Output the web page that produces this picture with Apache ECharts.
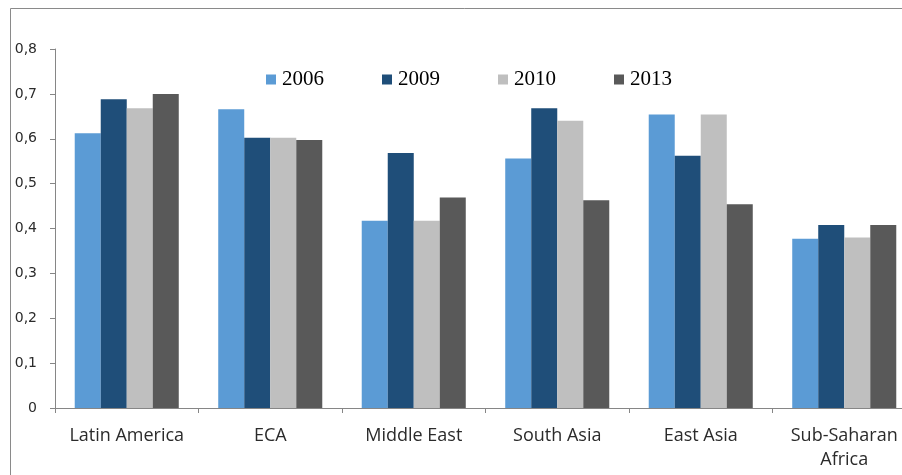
<!DOCTYPE html>
<html>
<head>
<meta charset="utf-8">
<script src="https://cdn.jsdelivr.net/npm/echarts@6/dist/echarts.min.js"></script>
<style>
html,body{margin:0;padding:0;background:#fff;overflow:hidden;width:902px;height:475px;}
#chart{width:918px;height:475px;}
</style>
</head>
<body>
<div id="chart"></div>
<script>
const categories = ['Latin America', 'ECA', 'Middle East', 'South Asia', 'East Asia', 'Sub-Saharan\nAfrica'];
const seriesNames = ['2006', '2009', '2010', '2013'];
const values2006 = [0.612, 0.666, 0.417, 0.556, 0.654, 0.377];
const values2009 = [0.688, 0.602, 0.568, 0.668, 0.562, 0.408];
const values2010 = [0.668, 0.602, 0.417, 0.640, 0.654, 0.380];
const values2013 = [0.700, 0.597, 0.469, 0.463, 0.454, 0.408];
const yTickLabels = ['0', '0,1', '0,2', '0,3', '0,4', '0,5', '0,6', '0,7', '0,8'];

const colors = ['#5B9BD5', '#1F4E79', '#BFBFBF', '#595959'];
const allValues = [values2006, values2009, values2010, values2013];

const chart = echarts.init(document.getElementById('chart'), null, {renderer: 'canvas'});
chart.setOption({
  animation: false,
  backgroundColor: '#ffffff',
  color: colors,
  graphic: [{
    type: 'rect',
    shape: {x: 10.5, y: 8.5, width: 1200, height: 1000},
    style: {fill: 'none', stroke: '#8a8a8a', lineWidth: 1},
    silent: true
  }],
  legend: {
    data: seriesNames,
    left: 266,
    top: 69,
    icon: 'rect',
    itemWidth: 10,
    itemHeight: 10,
    itemGap: 58,
    textStyle: {fontFamily: 'Liberation Serif', fontSize: 21, color: '#000', lineHeight: 21, padding: [0, 0, 0, 1]},
    padding: 0
  },
  grid: {left: 55, top: 49, right: 2, height: 359},
  xAxis: {
    type: 'category',
    data: categories,
    axisLine: {lineStyle: {color: '#868686', width: 1}},
    axisTick: {show: true, length: 5, lineStyle: {color: '#868686'}},
    axisLabel: {
      fontFamily: 'Open Sans',
      fontSize: 18,
      color: '#2b2b2b',
      margin: 16,
      lineHeight: 24,
      interval: 0
    },
    splitLine: {show: false}
  },
  yAxis: {
    type: 'value',
    min: 0,
    max: 0.8,
    interval: 0.1,
    axisLine: {show: true, lineStyle: {color: '#868686', width: 1}},
    axisTick: {show: true, length: 5, lineStyle: {color: '#868686'}},
    axisLabel: {
      fontFamily: 'DejaVu Sans',
      fontSize: 14,
      color: '#2b2b2b',
      margin: 18,
      formatter: function (v) { return yTickLabels[Math.round(v * 10)]; }
    },
    splitLine: {show: false}
  },
  series: seriesNames.map(function (name, i) {
    return {
      name: name,
      type: 'bar',
      data: allValues[i],
      barGap: '0%',
      barCategoryGap: '27.5%',
      itemStyle: {color: colors[i]}
    };
  })
});
</script>
</body>
</html>
